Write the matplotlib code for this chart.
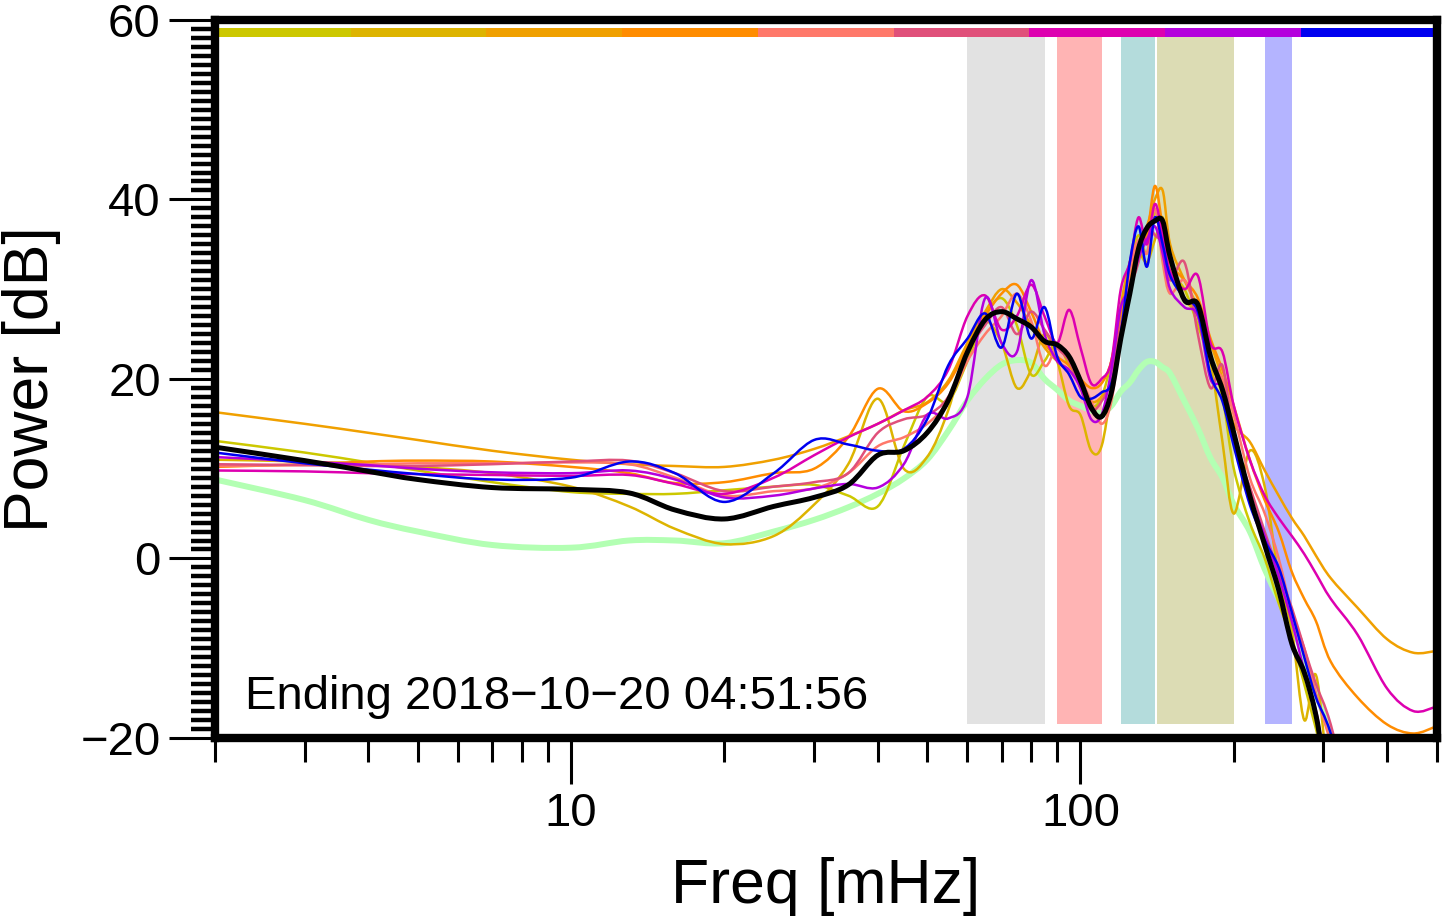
import numpy as np
import matplotlib
matplotlib.use('Agg')
import matplotlib.pyplot as plt
from matplotlib.ticker import MultipleLocator, LogLocator, NullFormatter, FuncFormatter
from matplotlib.patches import Rectangle, PathPatch
from matplotlib.path import Path

plt.rcParams['font.family'] = ['Liberation Sans', 'DejaVu Sans']

# frequency grid [mHz]
freq = [2, 3, 4, 5, 7, 10, 13, 16, 20, 25, 30, 35, 40, 45, 50,
        55, 60, 65, 70, 75, 80, 85, 90, 95, 100,
        105, 110, 115, 120, 125, 130, 135, 140, 145, 150,
        160, 170, 180, 190, 200, 215, 230, 245, 260, 275,
        290, 310, 350, 400, 450, 500]

# power spectra [dB], one per time slice (colours of the top strip)
p1 = [13.1, 11.8, 10.7, 9.8, 8.5, 7.4, 7.2, 7.2, 7.6, 8.0, 8.2, 7.0, 5.8, 12.5, 18.0,
      17.5, 22.0, 27.0, 29.0, 26.0, 20.5, 22.0, 24.0, 21.5, 20.0,
      17.0, 18.0, 22.0, 28.0, 33.0, 36.0, 34.0, 38.5, 36.0, 32.0,
      30.0, 26.0, 22.0, 18.0, 10.0, 4.0, 0.0, -5.0, -9.0, -14.0,
      -19.0, -25, -30, -30, -30, -30]
p2 = [11.0, 10.8, 10.5, 10.2, 9.5, 8.0, 5.8, 3.3, 1.6, 2.5, 6.0, 10.5, 17.8, 10.0, 11.3,
      16.5, 24.0, 26.5, 24.0, 19.0, 21.0, 25.0, 22.0, 17.0, 16.0,
      12.0, 12.5, 19.0, 27.0, 32.0, 34.0, 33.0, 35.5, 38.0, 33.0,
      29.0, 27.0, 22.0, 13.0, 5.0, 12.0, 8.0, -2.0, -8.0, -18.0,
      -13.0, -25, -30, -30, -30, -30]
p3 = [16.3, 15.0, 14.0, 13.2, 12.0, 11.0, 10.5, 10.3, 10.2, 11.0, 12.2, 13.6, 15.0, 16.5, 17.4,
      19.8, 24.0, 27.5, 30.0, 28.5, 26.0, 23.5, 22.0, 21.0, 19.5,
      17.5, 18.0, 20.0, 28.0, 33.0, 35.0, 37.0, 40.0, 41.0, 35.0,
      31.0, 28.0, 24.0, 20.0, 15.0, 13.0, 9.8, 7.0, 4.5, 2.5,
      0.3, -2.2, -5.5, -9.0, -10.5, -10.3]
p4 = [10.2, 10.5, 10.8, 10.9, 10.8, 10.2, 9.5, 8.4, 8.5, 9.5, 10.0, 13.5, 18.9, 16.4, 17.3,
      19.5, 23.5, 27.0, 29.5, 30.5, 27.5, 24.0, 22.5, 21.5, 20.0,
      19.0, 19.5, 22.0, 27.5, 31.0, 35.0, 36.0, 41.5, 37.0, 33.0,
      31.0, 29.0, 24.5, 21.0, 17.0, 11.0, 6.5, 3.0, -1.5, -4.5,
      -7.0, -11.5, -15.5, -18.5, -19.5, -18.7]
p5 = [10.3, 10.4, 10.5, 10.6, 10.6, 10.7, 10.5, 9.0, 7.0, 7.5, 7.8, 9.5, 12.5, 13.5, 15.0,
      17.5, 22.0, 25.0, 27.0, 29.5, 26.5, 21.5, 23.5, 22.0, 20.0,
      17.5, 15.0, 17.5, 25.0, 32.0, 35.5, 34.0, 39.0, 33.0, 29.5,
      31.0, 27.0, 22.0, 20.0, 16.0, 9.0, 5.0, 0.0, -6.0, -10.0,
      -15.0, -20.5, -30, -30, -30, -30]
p6 = [10.5, 10.4, 10.3, 10.3, 10.5, 10.8, 10.9, 9.5, 7.5, 8.0, 8.5, 9.5, 14.0, 15.5, 16.0,
      18.0, 23.0, 26.0, 28.0, 25.0, 27.5, 25.5, 23.5, 22.0, 19.0,
      16.5, 17.5, 20.0, 26.0, 30.0, 33.0, 37.0, 36.0, 35.0, 31.0,
      33.0, 25.0, 19.0, 21.5, 13.0, 8.0, 3.0, -1.5, -5.5, -10.0,
      -14.0, -18.5, -30, -30, -30, -30]
p7 = [9.8, 9.7, 9.5, 9.4, 9.3, 9.2, 9.3, 8.3, 7.2, 9.0, 11.5, 13.5, 15.0, 16.5, 18.0,
      21.0, 27.0, 29.3, 25.5, 27.0, 30.5, 27.0, 24.0, 27.7, 23.5,
      19.5, 20.0, 22.0, 30.0, 33.0, 38.0, 35.0, 39.5, 36.0, 32.0,
      30.0, 31.5, 24.0, 23.0, 17.0, 11.0, 7.0, 4.5, 2.5, 0.5,
      -1.7, -4.5, -8.5, -14.5, -17.0, -16.5]
p8 = [11.3, 10.8, 10.4, 10.0, 9.6, 9.5, 9.8, 8.8, 6.8, 7.0, 7.8, 8.3, 7.9, 10.5, 16.0,
      15.6, 18.0, 29.0, 24.0, 23.0, 31.0, 25.0, 22.0, 21.0, 19.0,
      15.5, 16.0, 21.0, 28.0, 30.0, 33.5, 35.5, 37.0, 34.0, 30.0,
      28.0, 27.0, 20.0, 19.0, 13.0, 7.0, 2.5, -2.0, -7.0, -12.5,
      -17.0, -25, -30, -30, -30, -30]
p9 = [11.8, 10.6, 9.9, 9.4, 8.8, 9.0, 10.8, 9.5, 6.3, 9.5, 13.2, 12.7, 12.0, 12.2, 15.5,
      21.5, 24.5, 27.3, 23.5, 29.5, 24.5, 28.0, 22.5, 20.5, 18.0,
      17.8, 18.5, 19.5, 25.0, 33.0, 37.0, 32.5, 38.0, 35.0, 31.5,
      29.0, 27.5, 20.5, 17.5, 12.5, 6.0, 2.0, -1.0, -6.0, -11.0,
      -15.5, -19.5, -30, -30, -30, -30]

# mean spectrum and noise floor
mean = [12.4, 10.9, 9.7, 8.8, 7.9, 7.7, 7.3, 5.4, 4.4, 5.8, 6.8, 8.2, 11.5, 12.0, 14.0,
        17.6, 23.0, 26.6, 27.5, 26.7, 25.8, 24.2, 23.8, 22.5, 19.8,
        16.8, 15.8, 18.5, 24.5, 29.5, 34.5, 36.8, 37.6, 37.6, 33.6,
        28.8, 28.3, 22.5, 18.8, 14.0, 7.0, 1.5, -3.5, -9.5, -12.7,
        -17.5, -26, -30, -30, -30, -30]
noise = [8.8, 6.5, 4.3, 3.0, 1.5, 1.2, 2.0, 2.0, 1.7, 3.0, 4.3, 5.7, 7.2, 8.9, 11.0,
         14.2, 17.6, 20.0, 21.6, 22.1, 21.8, 20.0, 18.8, 17.6, 17.0,
         16.5, 16.2, 17.0, 18.6, 19.6, 21.0, 21.9, 21.9, 21.3, 20.6,
         17.5, 14.5, 11.2, 9.0, 6.0, 3.0, -1.2, -4.5, -7.5, -11.0,
         -15.0, -19.5, -28, -30, -30, -30]

series = [p1, p2, p3, p4, p5, p6, p7, p8, p9]
colors = ['#CCC800', '#DDB400', '#F0A000', '#FF8C00', '#FF786A',
          '#E0507A', '#DD00B0', '#B400DD', '#0000F0']

# frequency bands [mHz]
band_lo = [60, 90, 120, 141.5, 230]
band_hi = [85, 110, 140, 200, 260]
band_colors = ['#E2E2E2', '#FFB4B4', '#B4DCDC', '#DCDCB4', '#B4B4FF']


def smooth_line(ax, x, y, **kw):
    # draw a smooth curve through the points (Catmull-Rom as cubic Beziers in log-x)
    pts = np.column_stack([np.log10(x), np.asarray(y, float)])
    verts = [pts[0]]
    codes = [Path.MOVETO]
    for i in range(len(pts) - 1):
        p0 = pts[max(i - 1, 0)]
        p1, p2 = pts[i], pts[i + 1]
        p3 = pts[min(i + 2, len(pts) - 1)]
        verts += [p1 + (p2 - p0) / 6, p2 - (p3 - p1) / 6, p2]
        codes += [Path.CURVE4] * 3
    verts = np.array(verts)
    verts[:, 0] = 10 ** verts[:, 0]
    ax.add_patch(PathPatch(Path(verts, codes), fill=False, capstyle='round',
                           joinstyle='round', **kw))


fig = plt.figure(figsize=(14.43, 9.19), dpi=100)
ax = fig.add_axes([0.149, 0.197, 0.8465, 0.7813])

for lo, hi, c in zip(band_lo, band_hi, band_colors):
    ax.axvspan(lo, hi, ymin=0.02, ymax=0.976, color=c, lw=0, zorder=0)

smooth_line(ax, freq, noise, edgecolor='#B3FFB3', lw=4.3, zorder=2)
for vals, c in zip(series, colors):
    smooth_line(ax, freq, vals, edgecolor=c, lw=1.8, zorder=3)
smooth_line(ax, freq, mean, edgecolor='black', lw=3.6, zorder=4)

# colour strip along the top
n = len(colors)
for i, c in enumerate(colors):
    ax.add_patch(Rectangle((i / n, 0.976), 1 / n, 0.013, transform=ax.transAxes,
                           facecolor=c, edgecolor='none', zorder=5, clip_on=False))

ax.set_xscale('log')
ax.set_xlim(2, 500)
ax.set_ylim(-20, 60)

ax.xaxis.set_major_locator(LogLocator(base=10))
ax.xaxis.set_minor_locator(LogLocator(base=10, subs=range(2, 10)))
ax.xaxis.set_major_formatter(FuncFormatter(lambda v, p: '%g' % v))
ax.xaxis.set_minor_formatter(NullFormatter())
ax.yaxis.set_major_locator(MultipleLocator(20))
ax.yaxis.set_minor_locator(MultipleLocator(1))

ax.tick_params(which='major', direction='out', length=33, width=2.2,
               labelsize=34, pad=6)
ax.tick_params(which='minor', direction='out', length=17, width=2.2)
ax.tick_params(axis='y', which='minor', width=3.2)

for s in ax.spines.values():
    s.set_linewidth(6)
    s.set_zorder(6)

ax.set_xlabel('Freq [mHz]', fontsize=45, labelpad=15)
ax.set_ylabel('Power [dB]', fontsize=45, labelpad=14)

ax.text(0.0245, 0.04, 'Ending 2018\u221210\u221220 04:51:56', transform=ax.transAxes,
        fontsize=34, va='baseline', ha='left', zorder=7)

fig.savefig('out.png', dpi=100)
